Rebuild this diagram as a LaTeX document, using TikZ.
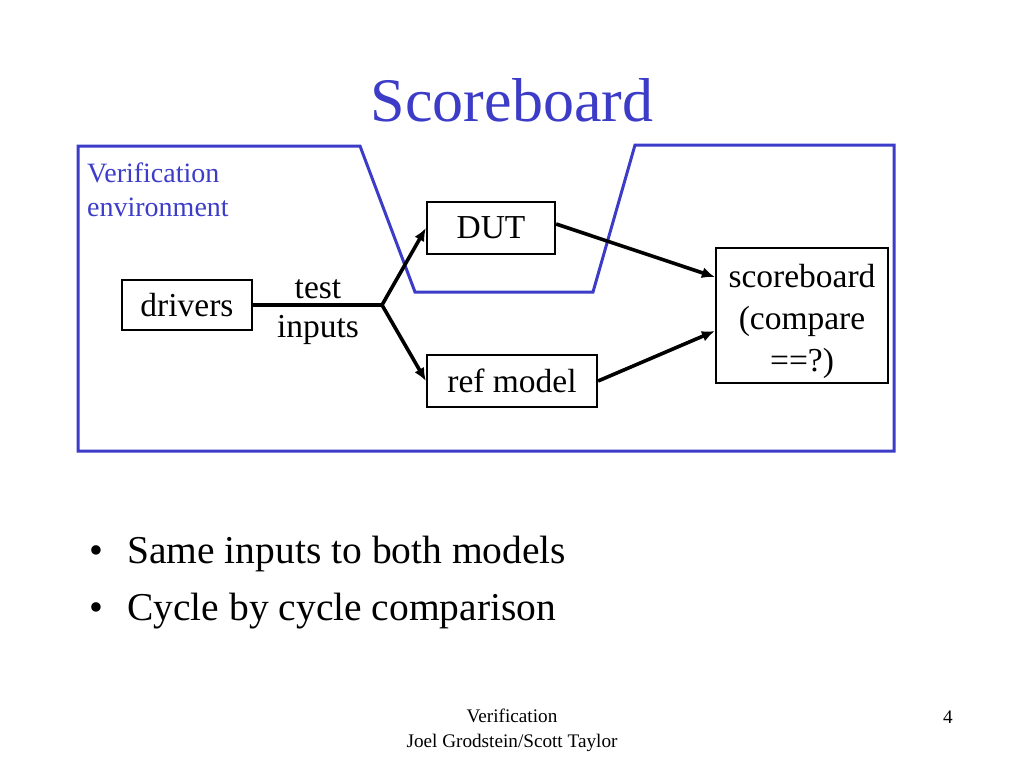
\documentclass[tikz,border=0pt]{standalone}
\usepackage{fontspec}
\setmainfont{Liberation Serif}
\usetikzlibrary{arrows.meta}
\definecolor{slideblue}{RGB}{60,60,200}
\tikzset{
  blk/.style={draw,line width=2.2pt,align=center,inner sep=0pt,
    font=\fontsize{33.5}{42}\selectfont},
  flow/.style={-{Latex[length=13pt,width=11pt]}},
}
\begin{document}
\begin{tikzpicture}[x=1pt,y=-1pt]
    \useasboundingbox (0,0) rectangle (1024,768);
    % title
    \node[text=slideblue,font=\fontsize{62}{70}\selectfont] (title) at (512,100) {Scoreboard};
    % verification environment outline
    \draw[slideblue,line width=3pt,line join=miter]
      (78,451) -- (78,146) -- (360,146) -- (415,292) -- (593,292)
      -- (635,145) -- (894,145) -- (894,451) -- cycle;
    \node[text=slideblue,align=left,anchor=north west,inner sep=0pt,
      font=\fontsize{28}{34}\selectfont] (env) at (87,163) {Verification\\environment};
    % blocks
    \node[blk,minimum width=130,minimum height=50] (drv) at (187,305) {drivers};
    \node[blk,minimum width=128,minimum height=52] (dut) at (491,228) {DUT};
    \node[blk,minimum width=170,minimum height=52] (ref) at (512,381) {ref model};
    \node[blk,minimum width=172,minimum height=135] (sb) at (802,315.5) {};
    \node[align=center,inner sep=0pt,font=\fontsize{33.5}{42}\selectfont]
      (sbtxt) at (802,321) {scoreboard\\(compare\\==?)};
    \coordinate (split) at (382,305);
    \node[font=\fontsize{33.5}{41}\selectfont] (test) at (318,289) {test};
    \node[font=\fontsize{33.5}{41}\selectfont] (inp) at (318,330) {inputs};
    % connections
    \begin{scope}[line width=3.6pt,line join=miter]
      \draw (drv.east) -- (split);
      \draw[flow] (split) -- (dut.west);
      \draw[flow] (split) -- (ref.west);
      \draw[flow] ([yshift=4pt]dut.east) -- ([yshift=38.5pt]sb.west);
      \draw[flow] (ref.east) -- ([yshift=-15.5pt]sb.west);
    \end{scope}
    % bullets
    \node[anchor=base west,font=\fontsize{39.5}{57}\selectfont] (b1) at (86,563)
      {\textbullet\hspace{24pt}Same inputs to both models};
    \node[anchor=base west,font=\fontsize{39.5}{57}\selectfont] (b2) at (86,620)
      {\textbullet\hspace{24pt}Cycle by cycle comparison};
    % footer
    \node[align=center,font=\fontsize{19.2}{25}\selectfont] (foot) at (512,730)
      {Verification\\Joel Grodstein/Scott Taylor};
    \node[anchor=base,font=\fontsize{19.2}{25}\selectfont] (pg) at (948,723) {4};
\end{tikzpicture}
\end{document}
